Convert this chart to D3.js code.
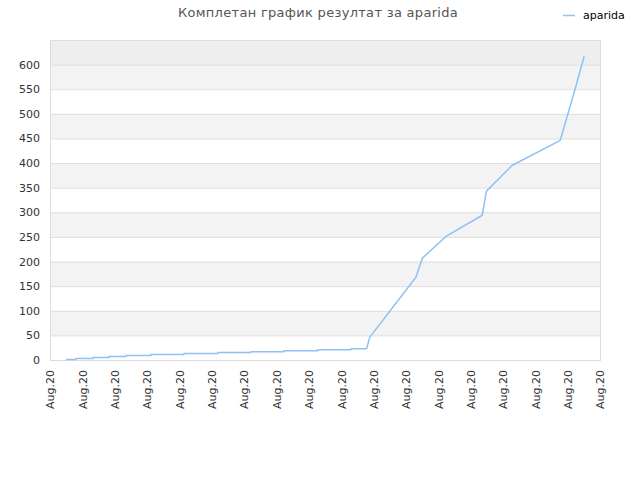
<!DOCTYPE html>
<html>
<head>
<meta charset="utf-8">
<script src="https://cdn.jsdelivr.net/npm/d3@7"></script>
<style>
  body { margin: 0; background: #fff; }
  text { font-family: "DejaVu Sans", sans-serif; }
</style>
</head>
<body>
<div id="chart"></div>
<script>
// Données
const titre = "Комплетан график резултат за aparida";
const serie = "aparida";
const xLabels = d3.range(18).map(() => "Aug.20");
const yTicks = d3.range(0, 650, 50);

// position (en intervalles d'axe) et points cumulés
const pos = [0.50, 0.80, 0.80, 1.33, 1.33, 1.82, 1.82, 2.35, 2.35, 3.12, 3.12,
  4.14, 4.14, 5.19, 5.19, 6.21, 6.21, 7.23, 7.23, 8.28, 8.28, 9.30, 9.30,
  9.79, 9.88, 11.31, 11.51, 12.24, 13.36, 13.49, 14.28, 15.77, 16.26, 16.51];
const points = [1, 1, 3, 3, 5, 5, 7, 7, 9, 9, 11,
  11, 13, 13, 15, 15, 17, 17, 19, 19, 21, 21, 23,
  23, 46, 168, 207, 251, 294, 343, 395, 446, 557, 617];

const data = pos.map((p, i) => ({ t: p, v: points[i] }));

const svg = d3.select("#chart")
  .append("svg")
  .attr("width", 640)
  .attr("height", 480);

const margin = { top: 40, left: 50, right: 40, bottom: 120 };
const width = 640 - margin.left - margin.right;
const height = 480 - margin.top - margin.bottom;

const xScale = d3.scaleLinear().domain([0, xLabels.length - 1]).range([0, width]);
const yScale = d3.scaleLinear().domain([0, 650]).range([height, 0]);

const chart = svg.append("g")
  .attr("transform", `translate(${margin.left},${margin.top})`);

//------bandes de fond
const bands = d3.range(0, 650, 50);
chart.selectAll(".band")
  .data(bands)
  .enter()
  .append("rect")
  .attr("x", 0)
  .attr("width", width)
  .attr("y", d => yScale(d + 50))
  .attr("height", d => yScale(d) - yScale(d + 50))
  .attr("fill", d => d == 600 ? "#eeeeee" : ((d / 50) % 2 == 1 ? "#f3f3f3" : "#ffffff"));

//------lignes de grille
chart.selectAll(".grid")
  .data(yTicks)
  .enter()
  .append("line")
  .attr("x1", 0)
  .attr("x2", width)
  .attr("y1", d => yScale(d) + 0.5)
  .attr("y2", d => yScale(d) + 0.5)
  .attr("stroke", "#dddddd");

chart.append("rect")
  .attr("x", 0.5)
  .attr("y", 0.5)
  .attr("width", width)
  .attr("height", height)
  .attr("fill", "none")
  .attr("stroke", "#dddddd");

//------axe y
const yAxis = chart.append("g")
  .call(d3.axisLeft(yScale).tickValues(yTicks).tickSize(0).tickPadding(10));
yAxis.select(".domain").remove();
yAxis.selectAll("text")
  .style("font-size", "11px")
  .style("fill", "#333");

//------axe x
const xAxis = chart.append("g")
  .attr("transform", `translate(0,${height})`)
  .call(d3.axisBottom(xScale).tickValues(d3.range(xLabels.length)).tickFormat(i => xLabels[i]).tickSize(0));
xAxis.select(".domain").remove();
xAxis.selectAll("text")
  .style("font-size", "11px")
  .style("fill", "#333")
  .style("text-anchor", "end")
  .attr("dy", "0.35em")
  .attr("transform", "translate(0,10)rotate(-90)")
  .attr("x", 0)
  .attr("y", 0);

//------ligne
const line = d3.line()
  .x(d => xScale(d.t))
  .y(d => yScale(d.v));

chart.append("path")
  .datum(data)
  .attr("d", line)
  .attr("fill", "none")
  .attr("stroke", "#8fc1f2")
  .attr("stroke-width", 1.5)
  .attr("stroke-linejoin", "round");

//------titre
svg.append("text")
  .attr("x", 318)
  .attr("y", 17)
  .attr("text-anchor", "middle")
  .style("font-size", "13px")
  .style("fill", "#555")
  .style("letter-spacing", "0.3px")
  .text(titre);

//------légende
svg.append("line")
  .attr("x1", 563).attr("x2", 575)
  .attr("y1", 15.5).attr("y2", 15.5)
  .attr("stroke", "#8fc1f2")
  .attr("stroke-width", 1.5);
svg.append("text")
  .attr("x", 583)
  .attr("y", 19)
  .style("font-size", "11px")
  .style("fill", "#000")
  .text(serie);
</script>
</body>
</html>
